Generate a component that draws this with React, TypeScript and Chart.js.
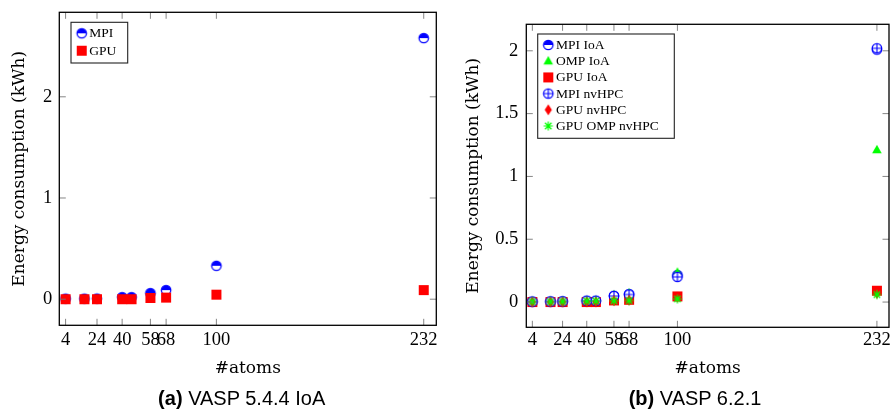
import React, { useEffect, useRef } from "react";
import { Chart, registerables } from "chart.js";

Chart.register(...registerables);

// ---------- data ----------
const atoms = [4, 16, 24, 40, 46, 58, 68, 100, 232];
const xTickValues = [4, 24, 40, 58, 68, 100, 232];
const yTicksA = [0, 1, 2];
const yTicksB = [0, 0.5, 1, 1.5, 2];

// (a) VASP 5.4.4 IoA
const mpiA = [0.005, 0.005, 0.006, 0.02, 0.02, 0.06, 0.09, 0.33, 2.58];
const gpuA = [0.0, 0.0, 0.0, 0.0, 0.0, 0.012, 0.016, 0.045, 0.09];

// (b) VASP 6.2.1
const mpiIoA = [0.003, 0.004, 0.005, 0.01, 0.01, 0.05, 0.063, 0.215, 2.01];
const ompIoA = [0.003, 0.004, 0.005, 0.01, 0.01, 0.056, 0.07, 0.235, 1.21];
const gpuIoA = [0.0, 0.0, 0.0, 0.0, 0.0, 0.013, 0.018, 0.045, 0.09];
const mpiNv = [0.003, 0.004, 0.005, 0.01, 0.01, 0.048, 0.06, 0.2, 2.02];
const gpuNv = [0.0, 0.0, 0.0, 0.0, 0.0, 0.012, 0.015, 0.04, 0.07];
const gpuOmpNv = [0.003, 0.003, 0.004, 0.008, 0.008, 0.01, 0.012, 0.025, 0.06];

const labelsA = ["MPI", "GPU"];
const labelsB = ["MPI IoA", "OMP IoA", "GPU IoA", "MPI nvHPC", "GPU nvHPC", "GPU OMP nvHPC"];

const xTitle = "#atoms";
const yTitle = "Energy consumption (kWh)";

// ---------- markers ----------
const BLUE = "#0000ff";
const RED = "#ff0000";
const GREEN = "#00ff00";

function makeMarker(kind: string): HTMLCanvasElement {
  const s = 16;
  const c = document.createElement("canvas");
  c.width = s;
  c.height = s;
  const ctx = c.getContext("2d") as CanvasRenderingContext2D;
  const cx = s / 2;
  const cy = s / 2;
  if (kind === "halfcircle") {
    const r = 4.7;
    ctx.beginPath();
    ctx.arc(cx, cy, r, 0, Math.PI * 2);
    ctx.fillStyle = "#fff";
    ctx.fill();
    ctx.beginPath();
    ctx.arc(cx, cy, r, Math.PI, 2 * Math.PI);
    ctx.closePath();
    ctx.fillStyle = BLUE;
    ctx.fill();
    ctx.beginPath();
    ctx.arc(cx, cy, r, 0, Math.PI * 2);
    ctx.strokeStyle = BLUE;
    ctx.lineWidth = 1.3;
    ctx.stroke();
  } else if (kind === "oplus") {
    const r = 4.7;
    ctx.beginPath();
    ctx.arc(cx, cy, r, 0, Math.PI * 2);
    ctx.fillStyle = "#fff";
    ctx.fill();
    ctx.strokeStyle = BLUE;
    ctx.lineWidth = 1.3;
    ctx.stroke();
    ctx.beginPath();
    ctx.moveTo(cx - r, cy);
    ctx.lineTo(cx + r, cy);
    ctx.moveTo(cx, cy - r);
    ctx.lineTo(cx, cy + r);
    ctx.lineWidth = 1.1;
    ctx.stroke();
  } else if (kind === "square") {
    ctx.fillStyle = RED;
    ctx.fillRect(cx - 5, cy - 5, 10, 10);
  } else if (kind === "triangle") {
    ctx.beginPath();
    ctx.moveTo(cx, cy - 5.2);
    ctx.lineTo(cx + 4.8, cy + 3.2);
    ctx.lineTo(cx - 4.8, cy + 3.2);
    ctx.closePath();
    ctx.fillStyle = GREEN;
    ctx.fill();
  } else if (kind === "diamond") {
    ctx.beginPath();
    ctx.moveTo(cx, cy - 5.5);
    ctx.lineTo(cx + 3.6, cy);
    ctx.lineTo(cx, cy + 5.5);
    ctx.lineTo(cx - 3.6, cy);
    ctx.closePath();
    ctx.fillStyle = RED;
    ctx.fill();
  } else if (kind === "asterisk") {
    ctx.strokeStyle = GREEN;
    ctx.lineWidth = 1.2;
    const r = 4.6;
    ctx.beginPath();
    for (let k = 0; k < 4; k++) {
      const a = (k * Math.PI) / 4;
      ctx.moveTo(cx - r * Math.cos(a), cy - r * Math.sin(a));
      ctx.lineTo(cx + r * Math.cos(a), cy + r * Math.sin(a));
    }
    ctx.stroke();
  }
  return c;
}

// ---------- plugins ----------
const frameTicksPlugin = {
  id: "frameTicks",
  afterDraw(chart: any) {
    const { ctx, chartArea } = chart;
    const { left, right, top, bottom } = chartArea;
    const xs = chart.scales.x;
    const ys = chart.scales.y;
    const L = 6.5;
    ctx.save();
    ctx.strokeStyle = "#777";
    ctx.lineWidth = 0.9;
    ctx.beginPath();
    xs.ticks.forEach((t: any) => {
      const px = xs.getPixelForValue(t.value);
      ctx.moveTo(px, bottom);
      ctx.lineTo(px, bottom - L);
      ctx.moveTo(px, top);
      ctx.lineTo(px, top + L);
    });
    ys.ticks.forEach((t: any) => {
      const py = ys.getPixelForValue(t.value);
      ctx.moveTo(left, py);
      ctx.lineTo(left + L, py);
      ctx.moveTo(right, py);
      ctx.lineTo(right - L, py);
    });
    ctx.stroke();
    ctx.strokeStyle = "#000";
    ctx.lineWidth = 1.3;
    ctx.strokeRect(left, top, right - left, bottom - top);
    ctx.restore();
  },
};

const boxLegendPlugin = {
  id: "boxLegend",
  afterDraw(chart: any, _args: any, opts: any) {
    if (!opts || !opts.display) return;
    const { ctx, chartArea } = chart;
    const bx = chartArea.left + opts.dx;
    const by = chartArea.top + opts.dy;
    ctx.save();
    ctx.fillStyle = "#fff";
    ctx.fillRect(bx, by, opts.w, opts.h);
    ctx.strokeStyle = "#222";
    ctx.lineWidth = 1.1;
    ctx.strokeRect(bx, by, opts.w, opts.h);
    ctx.font = opts.font;
    ctx.fillStyle = "#000";
    ctx.textBaseline = "middle";
    ctx.textAlign = "left";
    chart.data.datasets.forEach((ds: any, i: number) => {
      const ry = by + opts.firstRow + i * opts.rowH;
      const m = ds.pointStyle as HTMLCanvasElement;
      ctx.drawImage(m, bx + opts.markerX - m.width / 2, ry - m.height / 2);
      ctx.fillText(ds.label, bx + opts.textX, ry + 0.5);
    });
    ctx.restore();
  },
};

// ---------- chart builder ----------
type PanelSpec = {
  series: { label: string; values: number[]; marker: string }[];
  yTicks: number[];
  yMin: number;
  yMax: number;
  padTop: number;
  padRight: number;
  yAxisWidth: number;
  yTickPad: number;
  yTitlePad: number;
  xAxisHeight: number;
  xTickPad: number;
  legend: any;
};

const SERIF = "'Liberation Serif', 'DejaVu Serif', serif";
const TITLE_SERIF = "'DejaVu Serif', 'Liberation Serif', serif";

function buildConfig(spec: PanelSpec): any {
  const n = spec.series.length;
  const datasets = spec.series.map((s, i) => ({
    label: s.label,
    data: atoms.map((x, k) => ({ x, y: s.values[k] })),
    pointStyle: makeMarker(s.marker),
    pointRadius: 5,
    showLine: false,
    order: n - i,
  }));
  return {
    type: "scatter",
    data: { datasets },
    options: {
      responsive: false,
      maintainAspectRatio: false,
      animation: false,
      events: [],
      layout: { padding: { left: 0, top: spec.padTop, right: spec.padRight, bottom: 0 } },
      plugins: {
        legend: { display: false },
        tooltip: { enabled: false },
        boxLegend: spec.legend,
      },
      scales: {
        x: {
          type: "linear",
          min: 0,
          max: 240,
          grid: { display: false, drawTicks: false },
          border: { display: false },
          afterBuildTicks: (scale: any) => {
            scale.ticks = xTickValues.map((v) => ({ value: v }));
          },
          afterFit: (scale: any) => {
            scale.height = spec.xAxisHeight;
            scale.paddingLeft = 0;
            scale.paddingRight = 0;
          },
          ticks: {
            autoSkip: false,
            maxRotation: 0,
            minRotation: 0,
            padding: spec.xTickPad,
            color: "#000",
            font: { family: SERIF, size: 18.5 },
            callback: (v: any) => String(v),
          },
          title: {
            display: true,
            text: xTitle,
            color: "#000",
            font: { family: TITLE_SERIF, size: 17 },
            padding: { top: 0, bottom: 6.5 },
          },
        },
        y: {
          type: "linear",
          min: spec.yMin,
          max: spec.yMax,
          grid: { display: false, drawTicks: false },
          border: { display: false },
          afterBuildTicks: (scale: any) => {
            scale.ticks = spec.yTicks.map((v) => ({ value: v }));
          },
          afterFit: (scale: any) => {
            scale.width = spec.yAxisWidth;
            scale.paddingTop = 0;
            scale.paddingBottom = 0;
          },
          ticks: {
            autoSkip: false,
            padding: spec.yTickPad,
            color: "#000",
            font: { family: SERIF, size: 18.5 },
            callback: (v: any) => String(v),
          },
          title: {
            display: true,
            text: yTitle,
            color: "#000",
            font: { family: TITLE_SERIF, size: 17 },
            padding: { top: spec.yTitlePad, bottom: 0 },
          },
        },
      },
    },
    plugins: [frameTicksPlugin, boxLegendPlugin],
  };
}

const specA: PanelSpec = {
  series: [
    { label: labelsA[0], values: mpiA, marker: "halfcircle" },
    { label: labelsA[1], values: gpuA, marker: "square" },
  ],
  yTicks: yTicksA,
  yMin: -0.258,
  yMax: 2.835,
  padTop: 12.3,
  padRight: 8.7,
  yAxisWidth: 59.3,
  yTickPad: 7,
  yTitlePad: 9.8,
  xAxisHeight: 59.7,
  xTickPad: 3.6,
  legend: {
    display: true,
    dx: 11.7,
    dy: 10,
    w: 56.7,
    h: 40.7,
    firstRow: 11,
    rowH: 17.4,
    markerX: 10.7,
    textX: 18.3,
    font: "13.5px " + SERIF,
  },
};

const specB: PanelSpec = {
  series: [
    { label: labelsB[0], values: mpiIoA, marker: "halfcircle" },
    { label: labelsB[1], values: ompIoA, marker: "triangle" },
    { label: labelsB[2], values: gpuIoA, marker: "square" },
    { label: labelsB[3], values: mpiNv, marker: "oplus" },
    { label: labelsB[4], values: gpuNv, marker: "diamond" },
    { label: labelsB[5], values: gpuOmpNv, marker: "asterisk" },
  ],
  yTicks: yTicksB,
  yMin: -0.201,
  yMax: 2.211,
  padTop: 24.3,
  padRight: 3.3,
  yAxisWidth: 76.3,
  yTickPad: 8,
  yTitlePad: 13,
  xAxisHeight: 57.7,
  xTickPad: 1.6,
  legend: {
    display: true,
    dx: 11.4,
    dy: 9.7,
    w: 136.6,
    h: 104.3,
    firstRow: 11,
    rowH: 16.2,
    markerX: 10.6,
    textX: 18.3,
    font: "13.5px " + SERIF,
  },
};

function Panel({ spec, left }: { spec: PanelSpec; left: number }) {
  const ref = useRef<HTMLCanvasElement | null>(null);
  useEffect(() => {
    if (!ref.current) return;
    const chart = new Chart(ref.current, buildConfig(spec));
    return () => chart.destroy();
  }, [spec]);
  return (
    <canvas
      ref={ref}
      width={445}
      height={385}
      style={{ position: "absolute", left, top: 0, width: 445, height: 385 }}
    />
  );
}

const captionStyle: React.CSSProperties = {
  position: "absolute",
  top: 384,
  height: 28,
  lineHeight: "28px",
  fontFamily: "'Liberation Sans', Arial, sans-serif",
  fontSize: 20,
  color: "#000",
  whiteSpace: "nowrap",
  transform: "translateX(-50%)",
};

export default function App() {
  return (
    <div
      style={{
        position: "fixed",
        left: 0,
        top: 0,
        width: 895,
        height: 419,
        background: "#fff",
        overflow: "hidden",
      }}
    >
      <Panel spec={specA} left={0} />
      <Panel spec={specB} left={450} />
      <div style={{ ...captionStyle, left: 241.7 }}>
        <b>(a)</b> VASP 5.4.4 IoA
      </div>
      <div style={{ ...captionStyle, left: 695 }}>
        <b>(b)</b> VASP 6.2.1
      </div>
    </div>
  );
}
